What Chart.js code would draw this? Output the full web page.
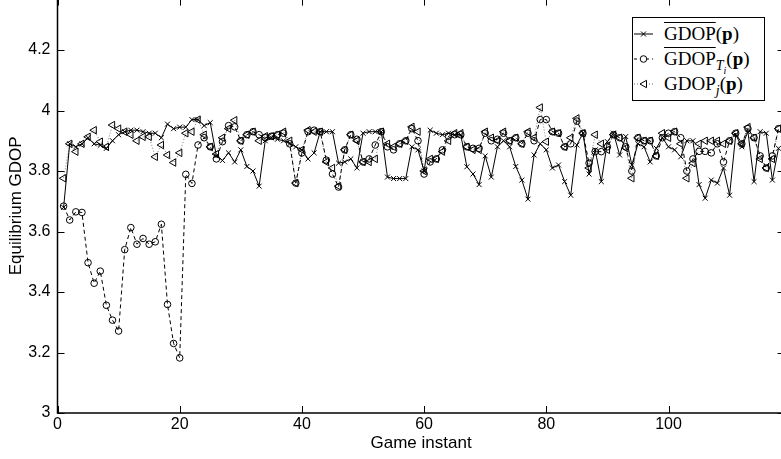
<!DOCTYPE html>
<html lang="en">
<head>
<meta charset="UTF-8">
<title>Equilibrium GDOP</title>
<script src="https://cdn.jsdelivr.net/npm/chart.js@4.4.0/dist/chart.umd.min.js"></script>
<style>
  html, body { margin: 0; padding: 0; background: #fff; overflow: hidden; }
  body { width: 781px; height: 459px; position: relative; }
  /* the reference is a crop: top and right edges of the axes box sit just outside the picture */
  #wrap { position: absolute; left: 0; top: -20px; width: 790px; height: 479px; }
  #legend {
    position: absolute; left: 632px; top: 17px; width: 133px; height: 84px;
    box-sizing: border-box; border: 1.5px solid #000; background: #fff;
    font-family: "Liberation Serif", "DejaVu Serif", serif; font-size: 19px; color: #000;
  }
  #legend .row { position: absolute; left: 0; height: 24px; line-height: 24px; white-space: nowrap; }
  #legend svg { position: absolute; left: 0; top: 5px; }
  #legend .txt { position: absolute; left: 31px; top: 0; font-weight: normal; }
  #legend .ov { text-decoration: overline; }
  #legend sub { font-size: 14px; line-height: 0; }
  #legend sub sub { font-size: 10px; }
</style>
</head>
<body>
  <div id="wrap"><canvas id="grafGdop"></canvas></div>

  <div id="legend">
    <div class="row" style="top:4px">
      <svg width="30" height="14"><line x1="1" y1="7" x2="20" y2="7" stroke="#000" stroke-width="1"/>
        <path d="M8 4.5 L13 9.5 M8 9.5 L13 4.5" stroke="#000" stroke-width="1"/></svg>
      <span class="txt"><span class="ov">GDOP</span>(<b>p</b>)</span>
    </div>
    <div class="row" style="top:29px">
      <svg width="30" height="14"><line x1="1" y1="7" x2="20" y2="7" stroke="#000" stroke-width="1" stroke-dasharray="3,3"/>
        <circle cx="10.5" cy="7" r="3.3" fill="#fff" stroke="#000" stroke-width="1"/></svg>
      <span class="txt"><span class="ov">GDOP</span><sub><i>T<sub>i</sub></i></sub>(<b>p</b>)</span>
    </div>
    <div class="row" style="top:54px">
      <svg width="30" height="14"><line x1="1" y1="7" x2="20" y2="7" stroke="#666" stroke-width="1" stroke-dasharray="1,2"/>
        <path d="M7 7 L13.5 3.3 L13.5 10.7 Z" fill="#fff" stroke="#000" stroke-width="1"/></svg>
      <span class="txt">GDOP<sub><i>j</i></sub>(<b>p</b>)</span>
    </div>
  </div>

<script>
  /* ---------- datos ---------- */
  const xTicks = [0, 20, 40, 60, 80, 100];
  const yTicks = [3, 3.2, 3.4, 3.6, 3.8, 4, 4.2];

  // GDOP medio (línea continua, marcadores x)
  const gdopMedio = [
    3.68, 3.89, 3.88, 3.89, 3.91, 3.89, 3.885, 3.875, 3.90, 3.92,
    3.93, 3.935, 3.935, 3.93, 3.925, 3.925, 3.91, 3.955, 3.94, 3.945,
    3.945, 3.97, 3.97, 3.95, 3.96, 3.85, 3.835, 3.86, 3.83, 3.87,
    3.815, 3.80, 3.75, 3.90, 3.91, 3.905, 3.90, 3.89, 3.88, 3.87,
    3.84, 3.86, 3.93, 3.93, 3.93, 3.826, 3.83, 3.84, 3.81, 3.925,
    3.93, 3.93, 3.93, 3.78, 3.775, 3.775, 3.775, 3.88, 3.87, 3.80,
    3.935, 3.925, 3.92, 3.925, 3.92, 3.92, 3.814, 3.79, 3.755, 3.85,
    3.78, 3.88, 3.90, 3.88, 3.815, 3.77, 3.707, 3.853, 3.89, 3.87,
    3.81, 3.82, 3.765, 3.72, 3.886, 3.925, 3.79, 3.87, 3.765, 3.897,
    3.925, 3.853, 3.914, 3.82, 3.89, 3.88, 3.83, 3.875, 3.91, 3.88,
    3.87, 3.847, 3.90, 3.90, 3.755, 3.71, 3.77, 3.76, 3.81, 3.72,
    3.92, 3.88, 3.93, 3.765, 3.93, 3.925, 3.77, 3.875
  ];

  // GDOP medio sobre T_i (línea discontinua, círculos)
  const gdopTi = [
    3.684, 3.638, 3.665, 3.663, 3.497, 3.429, 3.469, 3.356, 3.307, 3.271,
    3.54, 3.613, 3.558, 3.577, 3.558, 3.566, 3.624, 3.359, 3.23, 3.182,
    3.789, 3.759, 3.886, 3.91, 3.88, 3.84, 3.897, 3.95, 3.946, 3.90,
    3.92, 3.93, 3.92, 3.91, 3.915, 3.92, 3.925, 3.89, 3.76, 3.86,
    3.93, 3.935, 3.93, 3.836, 3.79, 3.747, 3.87, 3.92, 3.905, 3.83,
    3.84, 3.886, 3.93, 3.88, 3.87, 3.89, 3.90, 3.94, 3.90, 3.79,
    3.83, 3.84, 3.87, 3.915, 3.92, 3.92, 3.88, 3.875, 3.875, 3.925,
    3.90, 3.905, 3.925, 3.90, 3.91, 3.89, 3.925, 3.90, 3.97, 3.97,
    3.93, 3.925, 3.88, 3.89, 3.965, 3.925, 3.826, 3.864, 3.864, 3.88,
    3.92, 3.91, 3.88, 3.80, 3.91, 3.90, 3.90, 3.85, 3.91, 3.925,
    3.93, 3.91, 3.80, 3.84, 3.865, 3.865, 3.86, 3.89, 3.83, 3.90,
    3.925, 3.89, 3.94, 3.91, 3.85, 3.81, 3.85, 3.94
  ];

  // GDOP del jugador j (línea punteada, triángulos)
  const gdopJ = [
    3.776, 3.89, 3.864, 3.89, 3.913, 3.935, 3.897, 3.88, 3.952, 3.94,
    3.93, 3.92, 3.90, 3.913, 3.913, 3.847, 3.886, 3.853, 3.828, 3.86,
    3.925, 3.93, 3.97, 3.92, 3.88, 3.856, 3.91, 3.94, 3.968, 3.90,
    3.92, 3.93, 3.90, 3.915, 3.915, 3.92, 3.93, 3.90, 3.76, 3.87,
    3.935, 3.93, 3.93, 3.83, 3.81, 3.75, 3.87, 3.92, 3.90, 3.83,
    3.83, 3.84, 3.93, 3.89, 3.88, 3.89, 3.90, 3.946, 3.93, 3.80,
    3.84, 3.84, 3.864, 3.90, 3.925, 3.925, 3.88, 3.87, 3.87, 3.93,
    3.91, 3.90, 3.93, 3.90, 3.91, 3.89, 3.93, 3.91, 4.01, 3.897,
    3.93, 3.925, 3.88, 3.91, 3.974, 3.925, 3.81, 3.92, 3.89, 3.87,
    3.92, 3.91, 3.876, 3.776, 3.91, 3.90, 3.90, 3.85, 3.925, 3.91,
    3.93, 3.89, 3.776, 3.826, 3.89, 3.90, 3.90, 3.90, 3.89, 3.90,
    3.925, 3.89, 3.945, 3.91, 3.84, 3.81, 3.84, 3.94
  ];

  // instantes de juego 1..N
  const instantes = gdopMedio.map((_, i) => i + 1);
  const pts = serie => serie.map((v, i) => ({ x: instantes[i], y: v }));

  /* ---------- ticks hacia dentro (estilo MATLAB) ---------- */
  const ticksDentro = {
    id: 'ticksDentro',
    afterDatasetsDraw(chart) {
      const { ctx, chartArea: a, scales: { x, y } } = chart;
      ctx.save();
      ctx.strokeStyle = '#000';
      ctx.lineWidth = 1;
      ctx.beginPath();
      xTicks.forEach(v => {
        const p = Math.round(x.getPixelForValue(v)) + 0.5;
        ctx.moveTo(p, a.bottom); ctx.lineTo(p, a.bottom - 7);
        ctx.moveTo(p, a.top);    ctx.lineTo(p, a.top + 7);
      });
      yTicks.forEach(v => {
        const p = Math.round(y.getPixelForValue(v)) + 0.5;
        ctx.moveTo(a.left, p);  ctx.lineTo(a.left + 7, p);
        ctx.moveTo(a.right, p); ctx.lineTo(a.right - 7, p);
      });
      ctx.stroke();
      ctx.lineWidth = 1.5;
      ctx.strokeRect(a.left, a.top, a.right - a.left, a.bottom - a.top);
      ctx.restore();
    }
  };

  Chart.defaults.font.family = '"Liberation Sans", Arial, Helvetica, sans-serif';
  Chart.defaults.color = '#000';

  new Chart(document.getElementById('grafGdop'), {
    type: 'line',
    data: {
      datasets: [
        {
          label: 'GDOP(p)',
          data: pts(gdopMedio),
          borderColor: '#000', borderWidth: 1,
          pointStyle: 'crossRot', pointRadius: 3.5,
          pointBorderColor: '#000', pointBorderWidth: 1,
          pointBackgroundColor: 'rgba(0,0,0,0)'
        },
        {
          label: 'GDOP_Ti(p)',
          data: pts(gdopTi),
          borderColor: '#000', borderWidth: 1, borderDash: [4, 3],
          pointStyle: 'circle', pointRadius: 3.3,
          pointBorderColor: '#000', pointBorderWidth: 1,
          pointBackgroundColor: 'rgba(0,0,0,0)'
        },
        {
          label: 'GDOP_j(p)',
          data: pts(gdopJ),
          borderColor: '#777', borderWidth: 1, borderDash: [1, 2],
          pointStyle: 'triangle', pointRotation: -90, pointRadius: 4.3,
          pointBorderColor: '#000', pointBorderWidth: 1,
          pointBackgroundColor: 'rgba(0,0,0,0)'
        }
      ]
    },
    options: {
      responsive: true, maintainAspectRatio: false, animation: false,
      devicePixelRatio: 1,
      layout: { padding: { top: 18.6, right: 5.4, left: 0, bottom: 0 } },
      plugins: { legend: { display: false }, tooltip: { enabled: false } },
      elements: { line: { tension: 0 } },
      scales: {
        x: {
          type: 'linear', min: 0, max: 119,
          afterBuildTicks: s => { s.ticks = xTicks.map(v => ({ value: v })); },
          afterFit: s => { s.height = 46; },
          grid: { display: true, drawOnChartArea: false, drawTicks: false },
          border: { display: false },
          ticks: { font: { size: 16 }, padding: 2, maxRotation: 0 },
          title: { display: true, text: 'Game instant', font: { size: 17 }, padding: { top: 0, bottom: 5.8 } }
        },
        y: {
          type: 'linear', min: 3, max: 4.37,
          afterBuildTicks: s => { s.ticks = yTicks.map(v => ({ value: v })); },
          afterFit: s => { s.width = 57.5; },
          grid: { display: true, drawOnChartArea: false, drawTicks: false },
          border: { display: false },
          ticks: { font: { size: 16 }, padding: 7, callback: v => String(+v.toFixed(1)) },
          title: { display: true, text: 'Equilibrium GDOP', font: { size: 17 }, padding: { top: 6, bottom: 0 } }
        }
      }
    },
    plugins: [ticksDentro]
  });
</script>
</body>
</html>
